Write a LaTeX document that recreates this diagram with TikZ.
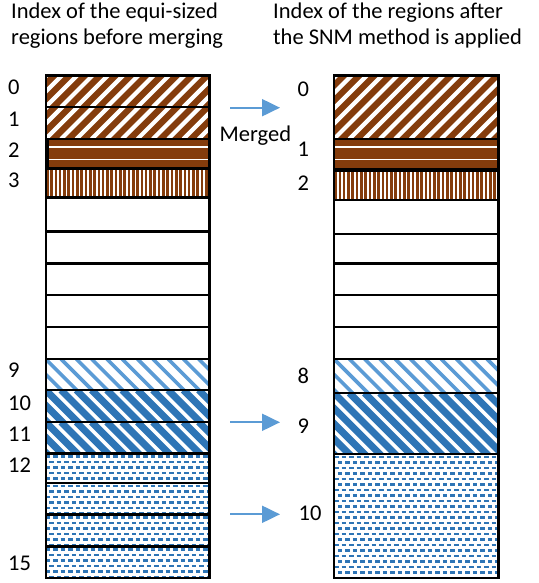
\documentclass[tikz,border=0pt]{standalone}
\usepackage{fontspec}
\setmainfont{Carlito}
\usetikzlibrary{arrows.meta}
\definecolor{brn}{HTML}{843C0C}
\definecolor{lblue}{HTML}{5B9BD5}
\definecolor{dblue}{HTML}{2E75B6}
\definecolor{arr}{HTML}{5B9BD5}
\tikzset{
  cellbox/.style={inner sep=0pt, outer sep=0pt, anchor=north west},
  cellborder/.style={draw=black, line width=2.4bp},
  brownup/.style={path picture={
      \fill[brn] (path picture bounding box.south west) rectangle (path picture bounding box.north east);
      \foreach \k in {-8,...,12}
        \draw[white, line width=4.2bp] ([xshift=\k*15.3bp]path picture bounding box.south west) -- ++(90bp,90bp);
  }},
  brownhz/.style={path picture={
      \fill[brn] (path picture bounding box.south west) rectangle (path picture bounding box.north east);
      \draw[white, line width=1.6bp] ([yshift=-8.3bp]path picture bounding box.north west) -- ([yshift=-8.3bp]path picture bounding box.north east);
      \draw[white, line width=1.6bp] ([yshift=-20.3bp]path picture bounding box.north west) -- ([yshift=-20.3bp]path picture bounding box.north east);
  }},
  brownvt/.style={path picture={
      \foreach \k in {0,...,40}
        \draw[brn, line width=2.6bp] ([xshift=\k*4.3bp+1.5bp]path picture bounding box.south west) -- ([xshift=\k*4.3bp+1.5bp]path picture bounding box.north west);
  }},
  bluedn/.style 2 args={path picture={
      \foreach \k in {-8,...,12}
        \draw[#1, line width=#2] ([xshift=\k*15.3bp]path picture bounding box.north west) -- ++(90bp,-90bp);
  }},
  bluedash/.style={path picture={
      \foreach \j [evaluate=\j as \ph using {mod(\j,2)*3.75}] in {0,...,23}
        \draw[dblue, line width=2.2bp, dash pattern=on 4.5bp off 3bp, dash phase=\ph bp]
          ([yshift=-\j*5.5bp-3bp]path picture bounding box.north west) -- ([yshift=-\j*5.5bp-3bp]path picture bounding box.north east);
  }},
  lbl/.style={font=\fontsize{22.5bp}{26bp}\selectfont, inner sep=0pt, anchor=base west},
  hdr/.style={font=\fontsize{22.5bp}{25.5bp}\selectfont, inner sep=0pt, anchor=north west, align=left},
  mergearrow/.style={draw=arr, line width=2bp, -{Triangle[width=17bp,length=18bp]}},
}
\begin{document}
\begin{tikzpicture}[x=1bp, y=-1bp]
\useasboundingbox[fill=white] (0,0) rectangle (539,583);
% headers
\node[hdr] (h1) at (11,3) {Index of the equi-sized\\regions before merging};
\node[hdr] (h2) at (273,3) {Index of the regions after\\the SNM method is applied};
% left column
\def\lx{45.7}
\def\cw{163.6bp}
\newcommand{\lcell}[4]{\node[cellbox, minimum width=\cw, minimum height=#3 bp, #4] (#1) at (\lx,#2) {};}
\lcell{L0}{75.5}{31.5}{brownup}
\lcell{L1}{107}{32}{brownup}
\lcell{L2}{139}{29.5}{brownhz}
\lcell{L3}{168.5}{29}{brownvt}
\lcell{L4}{197.5}{34}{}
\lcell{L5}{231.5}{32}{}
\lcell{L6}{263.5}{31.5}{}
\lcell{L7}{295}{32}{}
\lcell{L8}{327}{32}{}
\lcell{L9}{359}{31}{bluedn={lblue}{3.6bp}}
\lcell{L10}{390}{32}{bluedn={dblue}{7bp}}
\lcell{L11}{422}{31.5}{bluedn={dblue}{7bp}}
\lcell{L12}{453.5}{29.5}{bluedash}
\lcell{L13}{483}{31.5}{bluedash}
\lcell{L14}{514.5}{32}{bluedash}
\lcell{L15}{546.5}{31.5}{bluedash}
% right column
\def\rx{334}
\newcommand{\rcell}[4]{\node[cellbox, minimum width=164.3bp, minimum height=#3 bp, #4] (#1) at (\rx,#2) {};}
\rcell{R0}{75.5}{63.5}{brownup}
\rcell{R1}{139}{31}{brownhz}
\rcell{R2}{170}{30}{brownvt}
\rcell{R3}{200}{34}{}
\rcell{R4}{234}{29.5}{}
\rcell{R5}{263.5}{31.5}{}
\rcell{R6}{295}{32}{}
\rcell{R7}{327}{32}{}
\rcell{R8}{359}{34}{bluedn={lblue}{3.6bp}}
\rcell{R9}{393}{61}{bluedn={dblue}{7bp}}
\rcell{R10}{454}{124}{bluedash}
% borders on top of all fills
\foreach \n in {L0,L1,L2,L3,L4,L5,L6,L7,L8,L9,L10,L11,L12,L13,L14,L15,R0,R1,R2,R3,R4,R5,R6,R7,R8,R9,R10}
  \draw[cellborder] (\n.north west) rectangle (\n.south east);
\draw[line width=4.5bp] (L2.north west) ++(1.5bp,0) -- ([xshift=1.5bp]L2.south west);
\draw[line width=4.5bp] (R1.south west) -- (R1.south east);
% left labels
\node[lbl] (t0) at (8,95) {0};
\node[lbl] (t1) at (8,127) {1};
\node[lbl] (t2) at (8,158) {2};
\node[lbl] (t3) at (8,187) {3};
\node[lbl] (t9) at (8,377) {9};
\node[lbl] (t10) at (8,410) {10};
\node[lbl] (t11) at (8,441) {11};
\node[lbl] (t12) at (8,472) {12};
\node[lbl] (t15) at (8,570) {15};
% right labels
\node[lbl] (s0) at (297.5,97) {0};
\node[lbl] (s1) at (297.5,157) {1};
\node[lbl] (s2) at (297.5,190) {2};
\node[lbl] (s8) at (297.5,383) {8};
\node[lbl] (s9) at (297.5,433) {9};
\node[lbl] (s10) at (298.5,520) {10};
% arrows
\node[lbl] (mg) at (219.5,141.5) {Merged};
\coordinate (a1s) at (230,107.7);
\coordinate (a1e) at (280,107.7);
\coordinate (a2s) at (230,422.3);
\coordinate (a2e) at (280,422.3);
\coordinate (a3s) at (230,514.3);
\coordinate (a3e) at (280,514.3);
\draw[mergearrow] (a1s) -- (a1e);
\draw[mergearrow] (a2s) -- (a2e);
\draw[mergearrow] (a3s) -- (a3e);
\end{tikzpicture}
\end{document}
